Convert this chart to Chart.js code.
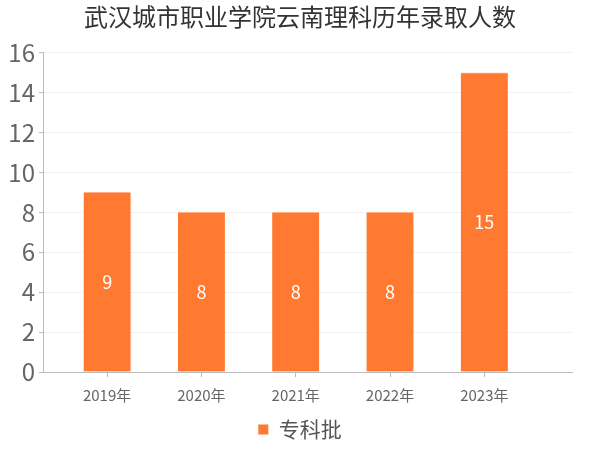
<!DOCTYPE html>
<html lang="zh">
<head>
<meta charset="UTF-8">
<title>武汉城市职业学院云南理科历年录取人数</title>
<script src="https://cdn.jsdelivr.net/npm/chart.js"></script>
<style>
    html, body { margin: 0; padding: 0; background: #fff; }
</style>
</head>
<body>
<canvas id="chart" width="600" height="450"></canvas>
<script>
    // 数据
    const years = ['2019年', '2020年', '2021年', '2022年', '2023年'];
    const counts = [9, 8, 8, 8, 15];
    const seriesName = '专科批';
    const barColor = '#ff7a30';
    const font = '"Noto Sans CJK SC", "Microsoft YaHei", sans-serif';

    // 柱内数值
    const valueLabels = {
        id: 'valueLabels',
        afterDatasetsDraw(chart) {
            const ctx = chart.ctx;
            const meta = chart.getDatasetMeta(0);
            ctx.save();
            ctx.fillStyle = '#fff';
            ctx.font = '18px ' + font;
            ctx.textAlign = 'center';
            ctx.textBaseline = 'middle';
            meta.data.forEach((bar, i) => {
                const mid = (bar.y + bar.base) / 2;
                ctx.fillText(counts[i], bar.x, mid);
            });
            ctx.restore();
        }
    };

    new Chart(document.getElementById('chart'), {
        type: 'bar',
        data: {
            datasets: [{
                label: seriesName,
                data: counts.map((v, i) => ({ x: i, y: v })),
                backgroundColor: barColor,
                borderColor: '#ffb085',
                borderWidth: { top: 1, left: 0, right: 0, bottom: 0 },
                barThickness: 47
            }]
        },
        options: {
            responsive: false,
            animation: false,
            devicePixelRatio: 1,
            layout: { padding: 0 },
            scales: {
                x: {
                    type: 'linear',
                    offset: false,
                    min: -0.68,
                    max: 4.93,
                    afterBuildTicks(scale) {
                        scale.ticks = years.map((y, i) => ({ value: i }));
                    },
                    ticks: {
                        autoSkip: false,
                        callback: (v) => years[v],
                        color: '#666',
                        font: { size: 15, family: font },
                        padding: 9
                    },
                    grid: { display: true, offset: false, drawOnChartArea: false, tickLength: 5, tickColor: '#bbb' },
                    border: { color: '#bbb', width: 1 }
                },
                y: {
                    min: 0,
                    max: 16,
                    ticks: {
                        stepSize: 2,
                        color: '#666',
                        font: { size: 24, family: font },
                        padding: 4
                    },
                    afterFit(scale) { scale.width = 43; },
                    grid: { color: '#f2f2f2', drawTicks: true, tickLength: 4, tickColor: '#bbb' },
                    border: { color: '#bbb', width: 1 }
                },
                // 右侧留白
                yRight: {
                    position: 'right',
                    display: true,
                    ticks: { display: false },
                    grid: { display: false },
                    border: { display: false },
                    afterFit(scale) { scale.width = 28; }
                }
            },
            plugins: {
                title: {
                    display: true,
                    text: '武汉城市职业学院云南理科历年录取人数',
                    color: '#333',
                    font: { size: 24, family: font, weight: 'normal' },
                    padding: { top: 2, bottom: 22 }
                },
                legend: {
                    position: 'bottom',
                    labels: {
                        color: '#555',
                        font: { size: 21, family: font },
                        boxWidth: 10,
                        boxHeight: 10,
                        padding: 6
                    }
                },
                tooltip: { enabled: false }
            }
        },
        plugins: [valueLabels]
    });
</script>
</body>
</html>
